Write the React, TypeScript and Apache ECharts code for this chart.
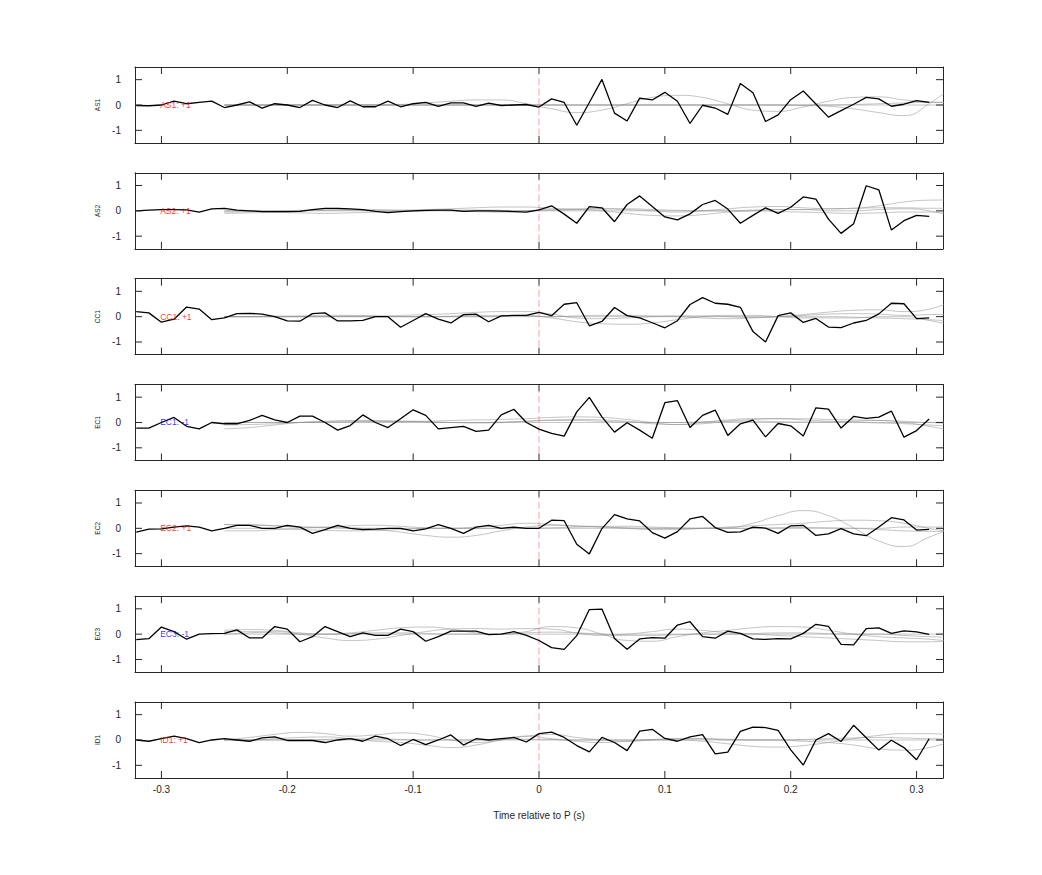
import React, { useEffect, useRef } from 'react';
import * as echarts from 'echarts';

// ---------- data ----------
const STATIONS = ['AS1', 'AS2', 'CC1', 'EC1', 'EC2', 'EC3', 'ID1'];
const POLARITY = ['+1', '+1', '+1', '-1', '+1', '-1', '+1'];

const TIME = [-0.32, -0.31, -0.30, -0.29, -0.28, -0.27, -0.26, -0.25, -0.24, -0.23, -0.22, -0.21, -0.20, -0.19, -0.18, -0.17,
  -0.16, -0.15, -0.14, -0.13, -0.12, -0.11, -0.10, -0.09, -0.08, -0.07, -0.06, -0.05, -0.04, -0.03, -0.02, -0.01,
  0.00, 0.01, 0.02, 0.03, 0.04, 0.05, 0.06, 0.07, 0.08, 0.09, 0.10, 0.11, 0.12, 0.13, 0.14, 0.15,
  0.16, 0.17, 0.18, 0.19, 0.20, 0.21, 0.22, 0.23, 0.24, 0.25, 0.26, 0.27, 0.28, 0.29, 0.30, 0.31];

const SYN_TIME = [-0.25, -0.23, -0.21, -0.19, -0.17, -0.15, -0.13, -0.11, -0.09, -0.07, -0.05, -0.03, -0.01, 0.01, 0.03,
  0.05, 0.07, 0.09, 0.11, 0.13, 0.15, 0.17, 0.19, 0.21, 0.23, 0.25, 0.27, 0.29, 0.31, 0.33];

const X_TICKS = [-0.3, -0.2, -0.1, 0, 0.1, 0.2, 0.3];
const Y_TICKS = [-1, 0, 1];
const X_RANGE = [-0.321, 0.321];
const Y_RANGE = [-1.5, 1.5];
const ONSET_SPAN = [-1.2, 1.2];
const LABEL_T = -0.301;
const X_NAME = 'Time relative to P (s)';

const AS1 = [-0.02, -0.03, 0.0, 0.15, 0.05, 0.1, 0.15, -0.1, 0.0, 0.12, -0.12, 0.05, 0.0, -0.1, 0.18, 0.0, -0.1, 0.16, -0.07, -0.07,
  0.15, -0.07, 0.05, 0.1, -0.05, 0.08, 0.08, -0.05, 0.07, -0.02, 0.0, 0.02,
  -0.08, 0.24, 0.1, -0.8, 0.1, 1.01, -0.32, -0.63, 0.27, 0.2, 0.5, 0.15, -0.73, -0.01, -0.12, -0.37, 0.85, 0.48, -0.65, -0.39,
  0.21, 0.55, 0.04, -0.48, -0.22, 0.03, 0.3, 0.24, -0.05, 0.03, 0.17, 0.1];
const AS2 = [0.0, 0.03, 0.05, 0.05, 0.04, -0.05, 0.08, 0.1, 0.03, 0.0, -0.03, -0.03, -0.03, -0.02, 0.05, 0.1, 0.1, 0.08, 0.05, -0.02,
  -0.07, -0.03, 0.0, 0.02, 0.03, 0.03, -0.02, 0.0, 0.0, -0.01, -0.03, -0.05,
  0.04, 0.2, -0.13, -0.49, 0.17, 0.12, -0.43, 0.25, 0.59, 0.17, -0.24, -0.36, -0.12, 0.25, 0.41, 0.07, -0.49, -0.18, 0.12, -0.1,
  0.14, 0.55, 0.46, -0.33, -0.89, -0.51, 0.99, 0.83, -0.76, -0.39, -0.18, -0.22];
const CC1 = [0.2, 0.15, -0.22, -0.1, 0.38, 0.3, -0.12, -0.05, 0.12, 0.13, 0.1, 0.0, -0.17, -0.18, 0.12, 0.15, -0.17, -0.17, -0.15, 0.0,
  0.0, -0.42, -0.15, 0.12, -0.1, -0.25, 0.08, 0.1, -0.2, 0.03, 0.05, 0.05,
  0.17, 0.04, 0.49, 0.55, -0.36, -0.19, 0.36, 0.04, -0.05, -0.24, -0.44, -0.16, 0.48, 0.75, 0.53, 0.49, 0.37, -0.59, -1.0, 0.04,
  0.15, -0.23, -0.07, -0.41, -0.43, -0.25, -0.15, 0.11, 0.53, 0.51, -0.08, -0.05];
const EC1 = [-0.22, -0.22, 0.0, 0.2, -0.15, -0.25, 0.0, -0.05, -0.05, 0.08, 0.28, 0.1, 0.0, 0.25, 0.25, 0.0, -0.3, -0.12, 0.3, 0.0,
  -0.2, 0.15, 0.5, 0.28, -0.25, -0.2, -0.15, -0.35, -0.3, 0.3, 0.52, 0.0,
  -0.26, -0.43, -0.54, 0.42, 0.99, 0.22, -0.38, -0.01, -0.3, -0.62, 0.78, 0.86, -0.2, 0.28, 0.49, -0.51, -0.05, 0.09, -0.57, -0.04,
  -0.13, -0.53, 0.58, 0.53, -0.22, 0.24, 0.16, 0.21, 0.45, -0.58, -0.32, 0.14];
const EC2 = [-0.15, -0.03, -0.02, 0.05, 0.1, 0.05, -0.1, 0.0, 0.12, 0.12, 0.0, 0.0, 0.12, 0.05, -0.2, -0.05, 0.12, 0.0, -0.05, -0.03,
  0.0, 0.0, -0.1, -0.02, 0.15, 0.0, -0.2, 0.05, 0.12, 0.0, 0.05, 0.0,
  0.0, 0.32, 0.3, -0.63, -1.01, -0.01, 0.54, 0.37, 0.29, -0.17, -0.39, -0.13, 0.37, 0.47, 0.03, -0.16, -0.14, 0.05, 0.01, -0.2,
  0.1, 0.12, -0.28, -0.22, -0.01, -0.22, -0.29, 0.05, 0.42, 0.33, -0.07, -0.04];
const EC3 = [-0.22, -0.18, 0.28, 0.1, -0.2, 0.0, 0.02, 0.03, 0.17, -0.15, -0.15, 0.3, 0.2, -0.3, -0.1, 0.3, 0.1, -0.1, 0.05, -0.05,
  -0.05, 0.2, 0.1, -0.28, -0.1, 0.12, 0.12, 0.12, -0.02, 0.0, 0.1, -0.05,
  -0.25, -0.53, -0.6, -0.06, 0.97, 0.99, -0.17, -0.6, -0.19, -0.14, -0.16, 0.36, 0.49, -0.1, -0.16, 0.12, 0.03, -0.19, -0.21, -0.18,
  -0.19, 0.03, 0.39, 0.31, -0.4, -0.42, 0.22, 0.25, 0.03, 0.13, 0.09, -0.01];
const ID1 = [0.0, -0.05, 0.05, 0.15, 0.05, -0.1, 0.0, 0.05, 0.0, -0.05, 0.08, 0.12, -0.02, -0.02, -0.02, -0.1, 0.0, 0.05, -0.05, 0.15,
  0.05, -0.22, 0.02, -0.18, 0.0, 0.2, -0.2, 0.05, 0.0, 0.05, 0.1, -0.08,
  0.25, 0.31, 0.1, -0.22, -0.47, 0.1, -0.1, -0.42, 0.35, 0.42, 0.06, -0.05, 0.12, 0.21, -0.55, -0.48, 0.34, 0.51, 0.49, 0.38,
  -0.39, -0.99, 0.0, 0.25, -0.06, 0.58, 0.09, -0.4, -0.01, -0.3, -0.78, 0.05];

// synthetic (grey) traces, sampled at SYN_TIME
const AS1_SYN = [
  [0, 0, 0, 0, 0, 0, 0, 0.02, 0.08, 0.15, 0.2, 0.2, 0.05, -0.15, -0.3, -0.2, 0.05, 0.3, 0.38, 0.3, 0.05, -0.2, -0.25, -0.08, 0.15, 0.3, 0.32, 0.2, 0.12, 0.1],
  [0, 0, 0, 0, 0, 0, 0, 0, 0, 0, 0, 0, 0, 0, 0, 0, 0, 0, 0, 0, 0, 0, 0, -0.02, -0.05, -0.15, -0.3, -0.42, 0.05, 0.8],
  [0, 0, 0, 0, 0, 0, 0, 0, 0, 0, 0, 0, 0, 0, 0, 0, 0, 0, 0, 0, 0, 0, 0, 0, 0, 0.02, 0.05, 0.08, 0.1, 0.1],
  [0, 0, 0, 0, 0, 0, 0, 0, 0, 0, 0, 0, 0, 0, 0, 0, 0, 0, 0, 0, 0, 0, 0, 0, 0, 0, 0, 0, 0, 0],
];
const AS2_SYN = [
  [-0.1, -0.08, -0.05, 0, 0.03, 0.05, 0.05, 0.03, 0.05, 0.08, 0.12, 0.15, 0.15, 0.1, 0.08, 0.08, 0.05, 0.0, -0.05, 0.0, 0.08, 0.15, 0.17, 0.12, 0.08, 0.1, 0.2, 0.35, 0.42, 0.43],
  [0, 0, -0.05, -0.08, -0.1, -0.08, -0.05, 0, 0.02, 0, -0.03, -0.05, 0.0, 0.05, 0.05, 0.0, -0.1, -0.18, -0.2, -0.15, -0.05, 0.0, 0.05, 0.05, 0.0, 0.0, 0.05, 0.08, 0.0, -0.25],
  [0, 0, 0, 0.02, 0.03, 0.02, 0, -0.02, 0, 0.02, 0.03, 0.02, 0, 0.02, 0.05, 0.08, 0.08, 0.05, 0.02, 0, 0, 0.03, 0.05, 0.05, 0.08, 0.1, 0.12, 0.12, 0.1, 0.1],
  [-0.05, -0.03, 0, 0, 0, 0, 0, 0, 0, 0, 0, 0, 0, 0, 0, 0, 0, 0, 0, 0, 0, 0, -0.03, -0.05, -0.08, -0.1, -0.08, -0.05, -0.05, -0.05],
];
const CC1_SYN = [
  [0, 0, 0, 0, 0, 0.02, 0.02, 0.05, 0.08, 0.12, 0.17, 0.2, 0.2, 0.1, -0.05, -0.08, -0.05, 0, 0.03, 0.03, 0.0, -0.03, 0, 0.08, 0.18, 0.25, 0.27, 0.2, 0.3, 0.65],
  [0, 0, 0, 0, 0, 0, 0, 0, 0, 0, 0, 0.02, 0.05, -0.05, -0.2, -0.28, -0.3, -0.25, -0.12, 0, 0.05, 0.05, 0, -0.05, -0.05, -0.05, 0, 0, -0.15, -0.35],
  [0, 0, 0.02, 0.03, 0.05, 0.05, 0.03, 0, 0, 0.02, 0.05, 0.05, 0.02, 0, 0.03, 0.05, 0.05, 0.03, 0, -0.05, -0.08, -0.05, 0, 0.05, 0.1, 0.12, 0.1, 0.05, 0.08, 0.1],
  [0, 0, 0, 0, 0, 0, 0, 0, 0, 0, 0, 0, 0, 0, 0, 0, 0, 0, 0, 0, 0, 0, 0, 0, 0, -0.02, -0.05, -0.08, -0.12, -0.18],
];
const EC1_SYN = [
  [-0.25, -0.2, -0.1, 0, 0.03, 0.05, 0.05, 0.05, 0.05, 0.08, 0.1, 0.12, 0.15, 0.2, 0.22, 0.2, 0.12, 0.0, -0.08, -0.05, 0.05, 0.12, 0.15, 0.15, 0.12, 0.1, 0.08, 0.0, -0.15, -0.35],
  [-0.1, -0.08, -0.05, 0, 0.05, 0.08, 0.08, 0.05, 0.03, 0.0, 0.0, 0.02, 0.05, 0.1, 0.12, 0.1, 0.05, -0.05, -0.08, 0.0, 0.1, 0.15, 0.15, 0.1, 0.05, 0.02, 0.0, 0.0, 0.0, -0.1],
  [0, 0, 0, 0, 0, 0.02, 0.03, 0.03, 0.02, 0, -0.02, 0, 0.05, 0.08, 0.08, 0.05, 0.02, 0, 0, 0.03, 0.05, 0.05, 0.03, 0.02, 0.02, 0.05, 0.08, 0.05, 0.0, 0.05],
  [0, 0, 0, 0, 0, 0, 0, 0, 0, 0, 0, 0, 0, 0, 0, 0, 0, 0, 0, 0, 0, 0, 0, 0, 0, 0, -0.02, -0.05, -0.1, -0.15],
];
const EC2_SYN = [
  [0.15, 0.12, 0.1, 0.05, 0.02, 0, 0, 0, 0, 0, 0, 0, 0, 0, 0, 0, 0, 0, 0, 0, 0.02, 0.2, 0.5, 0.7, 0.5, 0.02, -0.5, -0.72, -0.35, 0.05],
  [-0.1, -0.1, -0.05, 0, 0.03, 0.02, -0.05, -0.15, -0.28, -0.35, -0.28, -0.1, 0.05, 0.12, 0.1, 0.05, 0.0, -0.05, -0.05, 0, 0.05, 0.1, 0.15, 0.2, 0.28, 0.32, 0.3, 0.2, 0.0, -0.15],
  [0.15, 0.15, 0.1, 0.05, 0.05, 0.1, 0.12, 0.08, 0.02, 0, 0.05, 0.12, 0.2, 0.15, 0.08, 0.05, 0.02, 0, 0, 0, 0, 0, 0.02, 0.03, 0.02, 0, 0, 0.05, 0.05, 0.05],
  [0, 0, -0.02, -0.05, -0.08, -0.1, -0.08, -0.05, 0, 0, 0, 0, 0, 0.02, 0.05, 0.08, 0.08, 0.05, 0.02, 0, 0, 0, 0, 0, 0, 0, -0.05, -0.1, -0.12, -0.12],
];
const EC3_SYN = [
  [0.15, 0.18, 0.15, 0.05, 0.0, 0.05, 0.15, 0.25, 0.28, 0.2, 0.05, 0.0, 0.1, 0.3, 0.25, 0.0, -0.25, -0.28, -0.1, 0.05, 0.15, 0.25, 0.3, 0.28, 0.15, 0.0, -0.1, -0.15, -0.2, -0.3],
  [0.0, 0.05, 0.1, 0.0, -0.15, -0.25, -0.2, -0.05, 0.1, 0.2, 0.22, 0.2, 0.22, 0.2, 0.05, -0.05, 0.0, 0.1, 0.2, 0.15, 0.05, 0.0, -0.05, -0.1, -0.15, -0.2, -0.25, -0.3, -0.3, -0.25],
  [0.1, 0.1, 0.05, 0.0, 0.0, 0.02, 0.05, 0.05, 0.03, 0.0, 0.0, 0.0, 0.05, 0.08, 0.05, 0.0, -0.05, -0.05, -0.02, 0.0, 0.0, 0.02, 0.05, 0.05, 0.02, 0.0, 0.0, -0.05, -0.1, -0.12],
  [0, 0, 0, 0, 0, 0, 0, 0, 0, 0, 0, 0, 0, 0, 0, 0, 0, 0, 0, 0, 0, 0, 0, 0, 0, 0, 0, 0, 0, 0],
];
const ID1_SYN = [
  [0.0, 0.1, 0.22, 0.3, 0.25, 0.15, 0.2, 0.28, 0.2, 0.0, -0.1, 0.0, 0.15, 0.22, 0.1, 0.0, -0.05, 0.0, 0.0, -0.05, -0.15, -0.25, -0.28, -0.22, -0.1, 0.05, 0.18, 0.25, 0.25, 0.15],
  [0.0, 0.0, 0.05, 0.1, 0.12, 0.05, -0.05, -0.1, -0.2, -0.3, -0.2, 0.0, 0.15, 0.05, -0.05, -0.1, -0.05, 0.0, 0.05, 0.05, 0.0, 0.0, 0.0, -0.05, -0.1, -0.2, -0.35, -0.4, -0.3, 0.0],
  [0, 0, 0, 0, 0.02, 0.05, 0.05, 0.02, 0, 0, 0, 0.02, 0.03, 0.02, 0, 0, 0, 0.02, 0.05, 0.05, 0.03, 0, 0, 0.02, 0.05, 0.08, 0.1, 0.08, 0.05, 0.05],
  [0, 0, 0, 0, 0, 0, 0, 0, 0, 0, 0, 0, 0, 0, 0, 0, 0, 0, 0, 0, 0, 0, 0, 0, 0, 0, 0, 0, 0, 0],
];

const OBSERVED = [AS1, AS2, CC1, EC1, EC2, EC3, ID1];
const SYNTHETIC = [AS1_SYN, AS2_SYN, CC1_SYN, EC1_SYN, EC2_SYN, EC3_SYN, ID1_SYN];

// ---------- layout / style ----------
const FONT = '"Liberation Sans", Arial, Helvetica, sans-serif';
const AXIS_COLOR = '#262626';
const PLOT_LEFT = 135;
const PLOT_WIDTH = 808;
const PANEL_TOP = 67;
const PANEL_STEP = 105.83;
const PANEL_HEIGHT = 76;
const TICK_LEN = 7;

function buildOption() {
  const n = STATIONS.length;
  const grid: any[] = [];
  const xAxis: any[] = [];
  const yAxis: any[] = [];
  const series: any[] = [];
  const line = () => ({ show: true, onZero: false, lineStyle: { color: AXIS_COLOR, width: 1 } });
  const tickStyle = { stroke: AXIS_COLOR, lineWidth: 1 };

  for (let p = 0; p < n; p++) {
    const last = p === n - 1;
    grid.push({
      left: PLOT_LEFT,
      top: PANEL_TOP + p * PANEL_STEP,
      width: PLOT_WIDTH,
      height: PANEL_HEIGHT,
      show: false,
    });
    xAxis.push({
      type: 'value',
      gridIndex: p,
      position: 'bottom',
      min: X_RANGE[0],
      max: X_RANGE[1],
      axisLine: line(),
      splitLine: { show: false },
      axisTick: { show: false },
      axisLabel: {
        show: last,
        customValues: X_TICKS.slice(),
        formatter: (v: number) => String(v),
        fontSize: 10,
        color: AXIS_COLOR,
        margin: 7,
        fontFamily: FONT,
      },
      name: last ? X_NAME : '',
      nameLocation: 'middle',
      nameGap: 33,
      nameTextStyle: { fontSize: 10, color: AXIS_COLOR, fontFamily: FONT },
    });
    xAxis.push({
      type: 'value',
      gridIndex: p,
      position: 'top',
      min: X_RANGE[0],
      max: X_RANGE[1],
      axisLine: line(),
      splitLine: { show: false },
      axisTick: { show: false },
      axisLabel: { show: false },
    });
    yAxis.push({
      type: 'value',
      gridIndex: p,
      position: 'left',
      min: Y_RANGE[0],
      max: Y_RANGE[1],
      axisLine: line(),
      splitLine: { show: false },
      axisTick: { show: false },
      axisLabel: {
        customValues: Y_TICKS.slice(),
        fontSize: 10,
        color: AXIS_COLOR,
        margin: 14,
        fontFamily: FONT,
      },
      name: STATIONS[p],
      nameLocation: 'middle',
      nameRotate: 90,
      nameGap: 28,
      nameTextStyle: { fontSize: 6.5, color: AXIS_COLOR, fontFamily: FONT },
    });
    yAxis.push({
      type: 'value',
      gridIndex: p,
      position: 'right',
      min: Y_RANGE[0],
      max: Y_RANGE[1],
      axisLine: line(),
      splitLine: { show: false },
      axisTick: { show: false },
      axisLabel: { show: false },
    });

    const xi = 2 * p;
    const yi = 2 * p;

    // inward ticks on all four sides, placed through the axes' own scales
    series.push({
      type: 'custom',
      xAxisIndex: xi,
      yAxisIndex: yi,
      silent: true,
      clip: false,
      z: 7,
      data: X_TICKS.map((v) => [v, 0]),
      renderItem: (params: any, api: any) => {
        const cs = params.coordSys;
        const x = api.coord([api.value(0), 0])[0];
        return {
          type: 'group',
          children: [
            { type: 'line', shape: { x1: x, y1: cs.y, x2: x, y2: cs.y + TICK_LEN }, style: tickStyle },
            { type: 'line', shape: { x1: x, y1: cs.y + cs.height, x2: x, y2: cs.y + cs.height - TICK_LEN }, style: tickStyle },
          ],
        };
      },
    });
    series.push({
      type: 'custom',
      xAxisIndex: xi,
      yAxisIndex: yi,
      silent: true,
      clip: false,
      z: 7,
      data: Y_TICKS.map((v) => [0, v]),
      renderItem: (params: any, api: any) => {
        const cs = params.coordSys;
        const y = api.coord([0, api.value(1)])[1];
        return {
          type: 'group',
          children: [
            { type: 'line', shape: { x1: cs.x, y1: y, x2: cs.x + TICK_LEN, y2: y }, style: tickStyle },
            { type: 'line', shape: { x1: cs.x + cs.width, y1: y, x2: cs.x + cs.width - TICK_LEN, y2: y }, style: tickStyle },
          ],
        };
      },
    });

    SYNTHETIC[p].forEach((trace) => {
      series.push({
        type: 'line',
        xAxisIndex: xi,
        yAxisIndex: yi,
        data: SYN_TIME.map((t, i) => [t, trace[i]]),
        smooth: 0.5,
        symbol: 'none',
        silent: true,
        lineStyle: { color: 'rgba(140,140,140,0.5)', width: 1 },
        z: 2,
      });
    });
    series.push({
      type: 'line',
      xAxisIndex: xi,
      yAxisIndex: yi,
      data: ONSET_SPAN.map((v) => [0, v]),
      symbol: 'none',
      silent: true,
      lineStyle: { color: '#ee6a6a', width: 0.6, type: [7, 3] },
      z: 3,
    });
    series.push({
      type: 'line',
      xAxisIndex: xi,
      yAxisIndex: yi,
      data: TIME.map((t, i) => [t, OBSERVED[p][i]]),
      symbol: 'none',
      silent: true,
      lineStyle: { color: '#000000', width: 1.3 },
      z: 4,
    });
    const neg = POLARITY[p].startsWith('-');
    series.push({
      type: 'scatter',
      xAxisIndex: xi,
      yAxisIndex: yi,
      data: [[LABEL_T, 0]],
      symbolSize: 0,
      silent: true,
      label: {
        show: true,
        position: 'right',
        distance: 0,
        formatter: `${STATIONS[p]}: ${POLARITY[p]}`,
        color: neg ? '#0000ff' : '#ff0000',
        fontSize: 8.5,
        fontFamily: FONT,
      },
      z: 6,
    });
  }

  return {
    animation: false,
    backgroundColor: '#ffffff',
    grid,
    xAxis,
    yAxis,
    series,
  };
}

export default function App() {
  const ref = useRef<HTMLDivElement>(null);
  useEffect(() => {
    const chart = echarts.init(ref.current!, null, { renderer: 'svg' });
    chart.setOption(buildOption() as any);
    return () => chart.dispose();
  }, []);
  return (
    <div
      ref={ref}
      style={{ position: 'absolute', left: 0, top: 0, width: 1042, height: 875, background: '#ffffff' }}
    />
  );
}
